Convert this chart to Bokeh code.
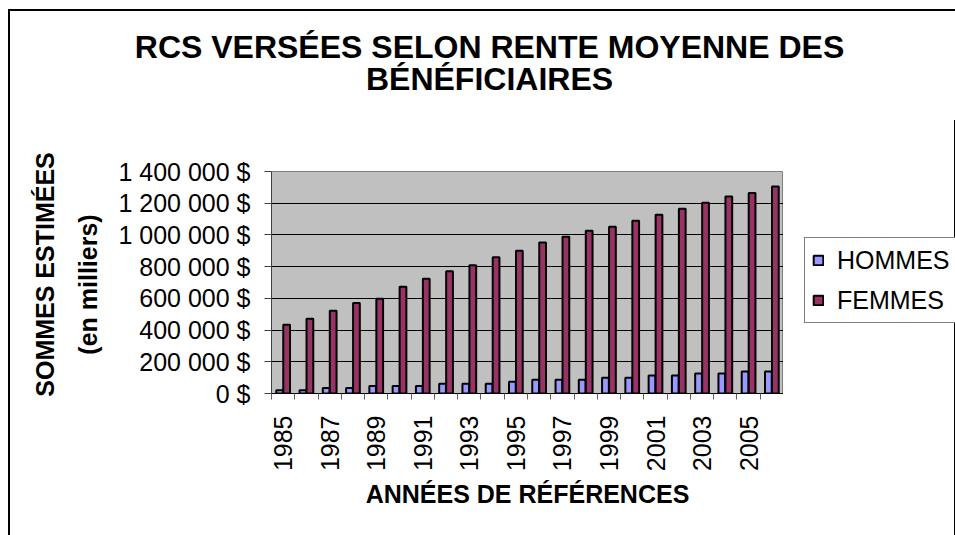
from bokeh.plotting import figure
from bokeh.models import FixedTicker, Legend, Label, ColumnDataSource
from bokeh.layouts import column, row
from bokeh.transform import dodge
from bokeh.embed import file_html
from bokeh.resources import INLINE
import math

# ---- data ----
years = list(range(1985, 2007))
hommes = [21000, 21000, 34000, 34000, 48000, 48000, 48000, 61000, 61000, 61000, 74000,
          87000, 87000, 87000, 100000, 100000, 113000, 113000, 126000, 126000, 139000, 139000]
femmes = [433000, 471000, 522000, 570000, 597000, 673000, 723000, 771000, 809000, 860000, 900000,
          952000, 988000, 1026000, 1051000, 1089000, 1127000, 1165000, 1203000, 1242000, 1265000, 1305000]
series_names = ["HOMMES", "FEMMES"]
series_colors = ["#9999FF", "#993366"]
y_ticks = [0, 200000, 400000, 600000, 800000, 1000000, 1200000, 1400000]
x_label_years = list(range(1985, 2006, 2))
title_lines = ["RCS VERSÉES SELON RENTE MOYENNE DES", "BÉNÉFICIAIRES"]
y_title = ["SOMMES ESTIMÉES", "(en milliers)"]
x_title = "ANNÉES DE RÉFÉRENCES"

FONT = "Liberation Sans"
W, H = 955, 535
TOP_H = 120
LEFT_W = 110
FRAME_L, FRAME_R, FRAME_T, FRAME_B = 271, 783, 171, 393
RIGHT_W = W - FRAME_R


def blank_fig(w, h, **kw):
    f = figure(width=w, height=h, output_backend="svg", toolbar_location=None,
               x_range=(0, 1), y_range=(0, 1), min_border=0,
               x_axis_location=None, y_axis_location=None, title=None, **kw)
    f.frame_align = False
    f.grid.visible = False
    f.outline_line_color = None
    f.background_fill_alpha = 0
    f.border_fill_alpha = 0
    return f


# ---- title strip ----
tfig = blank_fig(W, TOP_H)
tfig.add_layout(Label(x=489, y=TOP_H - 46, x_units="screen", y_units="screen", text=title_lines[0],
                      text_align="center", text_baseline="middle", text_font=FONT,
                      text_font_size="32px", text_font_style="bold", text_color="black"))
tfig.add_layout(Label(x=489, y=TOP_H - 78, x_units="screen", y_units="screen", text=title_lines[1],
                      text_align="center", text_baseline="middle", text_font=FONT,
                      text_font_size="32px", text_font_style="bold", text_color="black"))

# ---- y title strip ----
PH = H - TOP_H
yfig = blank_fig(LEFT_W, PH)
yfig.add_layout(Label(x=44, y=PH - (274 - TOP_H), x_units="screen", y_units="screen", text=y_title[0],
                      angle=math.pi / 2, text_align="center", text_baseline="middle", text_font=FONT,
                      text_font_size="25px", text_font_style="bold", text_color="black"))
yfig.add_layout(Label(x=87, y=PH - (284 - TOP_H), x_units="screen", y_units="screen", text=y_title[1],
                      angle=math.pi / 2, text_align="center", text_baseline="middle", text_font=FONT,
                      text_font_size="25px", text_font_style="bold", text_color="black"))

# ---- main plot ----
src = ColumnDataSource(dict(year=years, hommes=hommes, femmes=femmes))
PW = FRAME_R - LEFT_W
p = figure(width=PW, height=PH, output_backend="svg", toolbar_location=None,
           x_range=(years[0] - 0.5, years[-1] + 0.5), y_range=(0, 1400000),
           min_border_left=FRAME_L - LEFT_W, min_border_right=0,
           min_border_top=FRAME_T - TOP_H, min_border_bottom=PH - (FRAME_B - TOP_H),
           title=None)
p.frame_align = False
p.background_fill_color = "#C0C0C0"
p.border_fill_alpha = 0
p.outline_line_color = "#808080"
p.outline_line_width = 1

r1 = p.vbar(x=dodge("year", -0.15, range=p.x_range), top="hommes", width=0.29, source=src,
            fill_color=series_colors[0], line_color="black", line_width=2)
r2 = p.vbar(x=dodge("year", 0.15, range=p.x_range), top="femmes", width=0.29, source=src,
            fill_color=series_colors[1], line_color="black", line_width=2)

p.xgrid.visible = False
p.ygrid.ticker = FixedTicker(ticks=y_ticks[1:-1])
p.ygrid.grid_line_color = "black"
p.ygrid.grid_line_width = 1

ya = p.yaxis[0]
ya.ticker = FixedTicker(ticks=y_ticks)
ya.major_label_overrides = {v: f"{v:,}".replace(",", " ") + " $" for v in y_ticks}
ya.major_label_text_font = FONT
ya.major_label_text_font_size = "25px"
ya.major_label_text_color = "black"
ya.major_tick_out = 7
ya.major_tick_in = 0
ya.minor_tick_out = 0
ya.minor_tick_in = 0
ya.major_label_standoff = 14
ya.axis_line_color = "#404040"
ya.major_tick_line_color = "#404040"

xa = p.xaxis[0]
xa.ticker = FixedTicker(ticks=x_label_years, minor_ticks=[y - 0.5 for y in years] + [years[-1] + 0.5])
xa.major_label_overrides = {y: str(y) for y in x_label_years}
xa.major_label_orientation = math.pi / 2
xa.major_label_text_font = FONT
xa.major_label_text_font_size = "25px"
xa.major_label_text_color = "black"
xa.major_tick_out = 0
xa.major_tick_in = 0
xa.minor_tick_out = 6
xa.minor_tick_in = 0
xa.minor_tick_line_color = "#606060"
xa.major_label_standoff = 16
xa.axis_line_color = "black"
xa.axis_label = x_title
xa.axis_label_text_font = FONT
xa.axis_label_text_font_size = "25px"
xa.axis_label_text_font_style = "bold"
xa.axis_label_text_color = "black"
xa.axis_label_standoff = 6

# ---- legend strip: key glyphs reuse the same series (drawn outside this strip's view) ----
lfig = blank_fig(RIGHT_W, PH)
k1 = lfig.vbar(x="year", top="hommes", width=0.29, source=src,
               fill_color=series_colors[0], line_color="black", line_width=2)
k2 = lfig.vbar(x="year", top="femmes", width=0.29, source=src,
               fill_color=series_colors[1], line_color="black", line_width=2)
legend = Legend(items=[(series_names[0], [k1]), (series_names[1], [k2])],
                location=(21, H - 323),
                label_text_font=FONT, label_text_font_size="25px", label_text_color="black",
                glyph_width=12, glyph_height=12, label_height=30, label_standoff=13,
                spacing=10, padding=7, border_line_color="black", border_line_width=1,
                background_fill_color="white", background_fill_alpha=1.0, margin=0)
lfig.add_layout(legend)

layout = column(tfig, row(yfig, p, lfig, spacing=0), spacing=0)
layout.styles = {
    "background": "linear-gradient(#000, #000) 8px 9px / 2px 700px no-repeat, "
                  "linear-gradient(#000, #000) 8px 9px / 1200px 2px no-repeat, #ffffff"
}

open("out.html", "w").write(file_html(layout, INLINE))
